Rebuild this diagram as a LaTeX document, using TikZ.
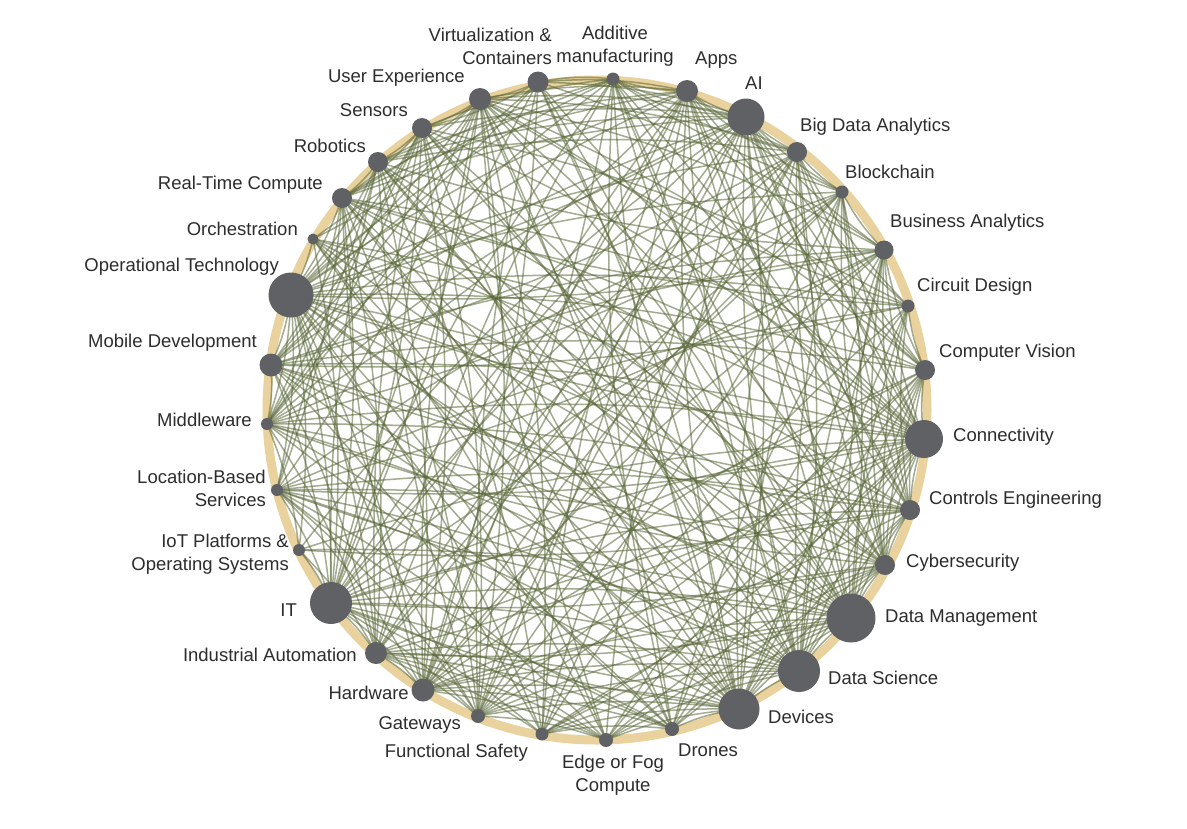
\documentclass[tikz,border=0pt]{standalone}
\usepackage{fontspec}
\setmainfont{Liberation Sans}
\definecolor{ringc}{RGB}{233,210,158}
\definecolor{edgec}{RGB}{88,102,55}
\definecolor{nodec}{RGB}{96,97,100}
\definecolor{txtc}{RGB}{45,45,45}
\begin{document}
\begin{tikzpicture}[x=1pt,y=-1pt,
  edge/.style={draw=edgec,line width=1.5pt,draw opacity=0.55},
  dot/.style={circle,fill=nodec,draw=none,inner sep=0pt},
  lbl/.style={inner sep=0pt,text=txtc,font=\fontsize{18.5}{23}\selectfont}]
\useasboundingbox (0,0) rectangle (1187,828);
\fill[white] (0,0) rectangle (1187,828);
\draw[ringc,line width=9pt] (597,410) circle[radius=330];
\def\nodelist{0/613/79/6.5, 1/687/91/11, 2/746/117/18.5, 3/797/152/10, 4/842/192/6.5, 5/884/250/9.5, 6/908/306/6.5, 7/925/370/10, 8/924/439/19, 9/910/510/10, 10/885/565/10, 11/851/618/24.5, 12/799/671/21, 13/739/709/20.5, 14/672/729/7, 15/606/740/7, 16/542/734/6.5, 17/478/716/7, 18/423/690/11.5, 19/376/653/11, 20/331/603/21, 21/299/550/6, 22/277/490/6, 23/267/424/6, 24/271/365/11.5, 25/291/295/22.5, 26/313/239/5.5, 27/342/198/10, 28/378/162/10, 29/422/128/10, 30/480/99/11, 31/538/82/10.5}
\def\rads{{6.5,11,18.5,10,6.5,9.5,6.5,10,19,10,10,24.5,21,20.5,7,7,6.5,7,11.5,11,21,6,6,6,11.5,22.5,5.5,10,10,10,11,10.5}}
\foreach \n/\x/\y/\r in \nodelist {\coordinate (p\n) at (\x,\y);}
\pgfmathsetseed{4242}
\foreach \i in {0,...,30}{
  \pgfmathtruncatemacro\ii{\i+1}
  \foreach \j in {\ii,...,31}{
    \pgfmathsetmacro\pp{3.6*\rads[\i]*\rads[\j]/576}
    \pgfmathtruncatemacro\e{rnd<\pp}
    \pgfmathtruncatemacro\sep{min(\j-\i,32-\j+\i)}
    \pgfmathtruncatemacro\bd{(mod(\i+\j,3)==0 && \sep>6) ? -7 : 8}
    \ifnum\e=1 \draw[edge] (p\i) to[bend right=\bd] (p\j);\fi
  }
}
\foreach \n/\x/\y/\r in \nodelist {\pgfmathsetmacro\d{2*\r}\node[dot,minimum size=\d pt] (n\n) at (p\n) {};}
% labels
\node[lbl,align=center] (l0) at (615,46.5) {Additive\\manufacturing};
\node[lbl,anchor=west] (l1) at (695,60) {Apps};
\node[lbl,anchor=west] (l2) at (745,83) {AI};
\node[lbl,anchor=west] (l3) at (800,127) {Big Data Analytics};
\node[lbl,anchor=west] (l4) at (845,172) {Blockchain};
\node[lbl,anchor=west] (l5) at (890,223) {Business Analytics};
\node[lbl,anchor=west] (l6) at (917,287) {Circuit Design};
\node[lbl,anchor=west] (l7) at (939,353) {Computer Vision};
\node[lbl,anchor=west] (l8) at (953,437) {Connectivity};
\node[lbl,anchor=west] (l9) at (929,500) {Controls Engineering};
\node[lbl,anchor=west] (l10) at (906,563) {Cybersecurity};
\node[lbl,anchor=west] (l11) at (885,618) {Data Management};
\node[lbl,anchor=west] (l12) at (828,678) {Data Science};
\node[lbl,anchor=west] (l13) at (768,717) {Devices};
\node[lbl,anchor=west] (l14) at (678,750) {Drones};
\node[lbl,align=center] (l15) at (613,775) {Edge or Fog\\Compute};
\node[lbl,anchor=east] (l16) at (528,753) {Functional Safety};
\node[lbl,anchor=east] (l17) at (461,725) {Gateways};
\node[lbl,anchor=east] (l18) at (409,693) {Hardware};
\node[lbl,anchor=east] (l19) at (357,655) {Industrial Automation};
\node[lbl,anchor=east] (l20) at (297,610) {IT};
\node[lbl,anchor=east,align=right] (l21) at (289,554.5) {IoT Platforms \&\\Operating Systems};
\node[lbl,anchor=east,align=right] (l22) at (266,488.5) {Location-Based\\Services};
\node[lbl,anchor=east] (l23) at (252,420) {Middleware};
\node[lbl,anchor=east] (l24) at (257,343) {Mobile Development};
\node[lbl,anchor=east] (l25) at (279,267) {Operational Technology};
\node[lbl,anchor=east] (l26) at (298,229) {Orchestration};
\node[lbl,anchor=east] (l27) at (323,185) {Real-Time Compute};
\node[lbl,anchor=east] (l28) at (366,146) {Robotics};
\node[lbl,anchor=east] (l29) at (408,110) {Sensors};
\node[lbl,anchor=east] (l30) at (465,78) {User Experience};
\node[lbl,anchor=east,align=right] (l31) at (552,46.5) {Virtualization \&\\Containers};
\end{tikzpicture}
\end{document}
